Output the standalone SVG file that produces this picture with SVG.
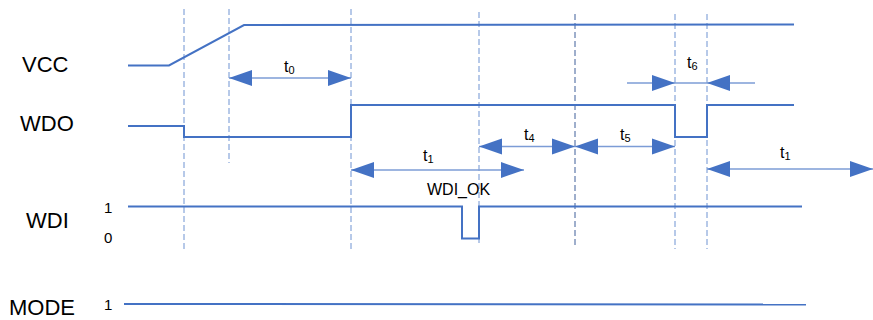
<svg xmlns="http://www.w3.org/2000/svg" width="873" height="320" viewBox="0 0 873 320">
<defs>
<style>
.sig{fill:none;stroke:#4472C4;stroke-width:2;}
.dash{fill:none;stroke:#6F93D2;stroke-width:1;stroke-dasharray:6,3;}
.dash2{fill:none;stroke:#3F5F99;stroke-width:1;stroke-dasharray:6,3;}
.dim{fill:none;stroke:#7C9CD6;stroke-width:1.3;}
.head{fill:#4472C4;}
.lbl{font-family:"Liberation Sans",Arial,sans-serif;font-size:22px;fill:#000;}
.num{font-family:"Liberation Sans",Arial,sans-serif;font-size:15px;fill:#000;}
.t{font-family:"Liberation Sans",Arial,sans-serif;font-size:16px;fill:#000;}
.sub{font-size:11px;}
</style>
</defs>
<rect width="873" height="320" fill="#fff"/>
<g id="guides">
<line class="dash" x1="184" y1="9" x2="184" y2="250"/>
<line class="dash" x1="229" y1="9" x2="229" y2="163"/>
<line class="dash" x1="351" y1="9" x2="351" y2="250"/>
<line class="dash" x1="479" y1="12" x2="479" y2="246"/>
<line class="dash2" x1="575" y1="14" x2="575" y2="248"/>
<line class="dash" x1="675" y1="14" x2="675" y2="249"/>
<line class="dash" x1="707" y1="14" x2="707" y2="249"/>
</g>
<g id="VCC">
<text class="lbl" x="22" y="72">VCC</text>
<polyline class="sig" points="128,65.5 169,65.5 244,25 794,24.5"/>
</g>
<g id="WDO">
<text class="lbl" x="20" y="131">WDO</text>
<polyline class="sig" points="128,126 184,126 184,137 351,137 351,105 675,105 675,137 707,137 707,105 794,105"/>
</g>
<g id="WDI">
<text class="lbl" x="26" y="228">WDI</text>
<text class="num" x="104" y="213">1</text>
<text class="num" x="104" y="243">0</text>
<polyline class="sig" points="128,206.5 462,206.5 462,238.5 479,238.5 479,206.5 802,206.5"/>
<text class="t" x="427" y="195">WDI_OK</text>
</g>
<g id="MODE">
<text class="lbl" x="9" y="315">MODE</text>
<text class="num" x="104" y="310">1</text>
<polyline class="sig" points="124,304 806,304.5"/>
</g>
<g id="connectors">
<line class="dim" x1="229" y1="78" x2="351" y2="78"/>
<polygon class="head" points="229,78 252,70 252,86"/>
<polygon class="head" points="351,78 328,70 328,86"/>
<line class="dim" x1="351" y1="170" x2="524" y2="170"/>
<polygon class="head" points="351,170 374,162 374,178"/>
<polygon class="head" points="524,170 501,162 501,178"/>
<line class="dim" x1="479" y1="146.5" x2="575" y2="146.5"/>
<polygon class="head" points="479,146.5 502,138.5 502,154.5"/>
<polygon class="head" points="575,146.5 552,138.5 552,154.5"/>
<line class="dim" x1="575" y1="146.5" x2="675" y2="146.5"/>
<polygon class="head" points="575,146.5 598,138.5 598,154.5"/>
<polygon class="head" points="675,146.5 652,138.5 652,154.5"/>
<line class="dim" x1="627" y1="83" x2="755" y2="83"/>
<polygon class="head" points="675,83 652,75 652,91"/>
<polygon class="head" points="707,83 730,75 730,91"/>
<line class="dim" x1="707" y1="169" x2="873" y2="169"/>
<polygon class="head" points="707,169 730,161 730,177"/>
<polygon class="head" points="873,169 850,161 850,177"/>
</g>
<g id="labels">
<text class="t" x="284" y="72">t<tspan class="sub" dy="2">0</tspan></text>
<text class="t" x="423" y="161">t<tspan class="sub" dy="2">1</tspan></text>
<text class="t" x="524" y="140">t<tspan class="sub" dy="2">4</tspan></text>
<text class="t" x="620" y="140">t<tspan class="sub" dy="2">5</tspan></text>
<text class="t" x="687" y="68">t<tspan class="sub" dy="2">6</tspan></text>
<text class="t" x="780" y="158">t<tspan class="sub" dy="2">1</tspan></text>
</g>
</svg>
